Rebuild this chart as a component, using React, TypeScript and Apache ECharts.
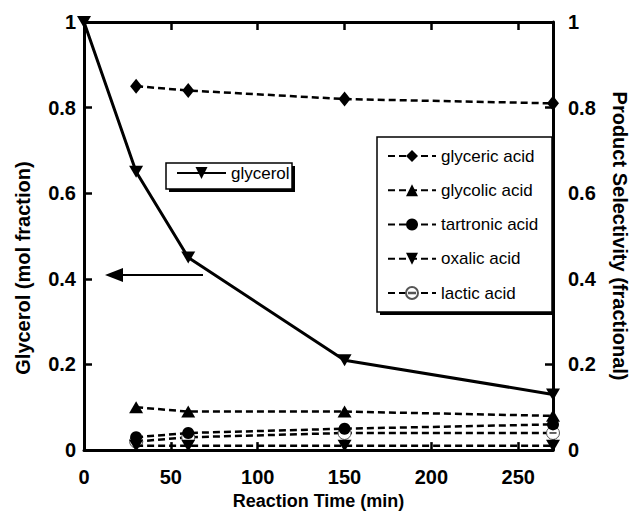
import React, { useEffect, useRef } from "react";
import * as echarts from "echarts";

const timeGlycerol = [0, 30, 60, 150, 270];
const glycerol = [1.0, 0.65, 0.45, 0.21, 0.13];
const timeProducts = [30, 60, 150, 270];
const glycericAcid = [0.85, 0.84, 0.82, 0.81];
const glycolicAcid = [0.1, 0.09, 0.09, 0.08];
const tartronicAcid = [0.03, 0.04, 0.05, 0.06];
const oxalicAcid = [0.01, 0.01, 0.01, 0.01];
const lacticAcid = [0.02, 0.03, 0.04, 0.04];
const xTitle = "Reaction Time (min)";
const yLeftTitle = "Glycerol (mol fraction)";
const yRightTitle = "Product Selectivity (fractional)";

const FONT = "Liberation Sans";
const LACTIC_PATH =
  "path://M0,-10 A10,10 0 1,1 0,10 A10,10 0 1,1 0,-10 Z M-5,-0.6 L5,-0.6 L5,0.6 L-5,0.6 Z";

const pairs = (xs: number[], ys: number[]) => xs.map((x, i) => [x, ys[i]]);

export default function App() {
  const ref = useRef<HTMLDivElement>(null);
  useEffect(() => {
    const chart = echarts.init(ref.current!, null, { renderer: "svg" });
    const axisLine = { show: true, onZero: false, lineStyle: { color: "#000", width: 3 } };
    const axisTick = { show: true, inside: true, length: 8, lineStyle: { color: "#000", width: 2.5 } };
    const labelStyle = { color: "#000", fontSize: 20, fontWeight: "bold", fontFamily: FONT };
    const nameStyle = { color: "#000", fontSize: 18, fontWeight: "bold", fontFamily: FONT };
    const yNameStyle = { color: "#000", fontSize: 20, fontWeight: "bold", fontFamily: FONT };
    const legendText = { color: "#000", fontSize: 17, fontFamily: FONT };
    const dashed = { color: "#000", width: 2.5, type: [7, 4] };
    const productSeries = (name: string, data: number[], symbol: string, size: any, extra: any = {}) => ({
      name,
      type: "line",
      xAxisIndex: 0,
      yAxisIndex: 1,
      data: pairs(timeProducts, data),
      symbol,
      symbolSize: size,
      lineStyle: dashed,
      itemStyle: { color: "#000" },
      ...extra,
    });
    chart.setOption({
      animation: false,
      backgroundColor: "#fff",
      grid: { left: 84, right: 66, top: 22, bottom: 61, containLabel: false },
      xAxis: [
        {
          type: "value",
          position: "bottom",
          min: 0,
          max: 270,
          interval: 50,
          axisLine,
          axisTick,
          splitLine: { show: false },
          axisLabel: { ...labelStyle, margin: 17, showMaxLabel: false },
          name: xTitle,
          nameLocation: "middle",
          nameGap: 39,
          nameTextStyle: nameStyle,
        },
        {
          type: "value",
          position: "top",
          min: 0,
          max: 270,
          interval: 50,
          axisLine,
          axisTick,
          splitLine: { show: false },
          axisLabel: { show: false },
        },
      ],
      yAxis: [
        {
          type: "value",
          position: "left",
          min: 0,
          max: 1,
          interval: 0.2,
          axisLine,
          axisTick,
          splitLine: { show: false },
          axisLabel: { ...labelStyle, margin: 8 },
          name: yLeftTitle,
          nameLocation: "middle",
          nameGap: 51,
          nameTextStyle: { ...yNameStyle, padding: [0, 64, 0, 0] },
        },
        {
          type: "value",
          position: "right",
          min: 0,
          max: 1,
          interval: 0.2,
          axisLine,
          axisTick,
          splitLine: { show: false },
          axisLabel: { ...labelStyle, margin: 15 },
          name: yRightTitle,
          nameLocation: "middle",
          nameRotate: -90,
          nameGap: 57,
          nameTextStyle: yNameStyle,
        },
      ],
      legend: [
        {
          data: ["glycerol"],
          orient: "vertical",
          left: 176,
          top: 164.5,
          padding: 0,
          itemWidth: 49,
          itemHeight: 15,
          z: 10,
          textStyle: legendText,
        },
        {
          data: ["glyceric acid", "glycolic acid", "tartronic acid", "oxalic acid", "lactic acid"],
          orient: "vertical",
          left: 387,
          top: 147.5,
          padding: 0,
          itemGap: 17.25,
          itemWidth: 48,
          itemHeight: 15,
          z: 10,
          textStyle: legendText,
        },
      ],
      graphic: [
        { type: "rect", z: 5, shape: { x: 380, y: 140, width: 175, height: 175 }, style: { fill: "#000" } },
        { type: "rect", z: 5, shape: { x: 377, y: 137, width: 175, height: 175 }, style: { fill: "#fff", stroke: "#000", lineWidth: 1.5 } },
        { type: "rect", z: 5, shape: { x: 169, y: 166, width: 126, height: 26 }, style: { fill: "#000" } },
        { type: "rect", z: 5, shape: { x: 166, y: 163, width: 126, height: 26 }, style: { fill: "#fff", stroke: "#000", lineWidth: 1.5 } },
        { type: "line", z: 5, shape: { x1: 203, y1: 275, x2: 118, y2: 275 }, style: { stroke: "#000", lineWidth: 2 } },
        { type: "polygon", z: 5, shape: { points: [[105, 275], [123, 268], [123, 282]] }, style: { fill: "#000" } },
      ],
      series: [
        {
          name: "glycerol",
          type: "line",
          xAxisIndex: 0,
          yAxisIndex: 0,
          z: 3,
          data: pairs(timeGlycerol, glycerol),
          symbol: "triangle",
          symbolRotate: 180,
          symbolSize: [14, 12],
          lineStyle: { color: "#000", width: 3 },
          itemStyle: { color: "#000" },
        },
        productSeries("glyceric acid", glycericAcid, "diamond", [12, 15]),
        productSeries("glycolic acid", glycolicAcid, "triangle", [14, 12]),
        productSeries("tartronic acid", tartronicAcid, "circle", 12),
        productSeries("oxalic acid", oxalicAcid, "triangle", [14, 12], { symbolRotate: 180 }),
        productSeries("lactic acid", lacticAcid, LACTIC_PATH, 13, {
          z: 1,
          symbolKeepAspect: true,
          itemStyle: { color: "#fff", borderColor: "#555", borderWidth: 1 },
        }),
      ],
    });
    return () => chart.dispose();
  }, []);
  return (
    <div
      ref={ref}
      style={{ position: "fixed", left: 0, top: 0, width: 638, height: 515, background: "#fff" }}
    />
  );
}
